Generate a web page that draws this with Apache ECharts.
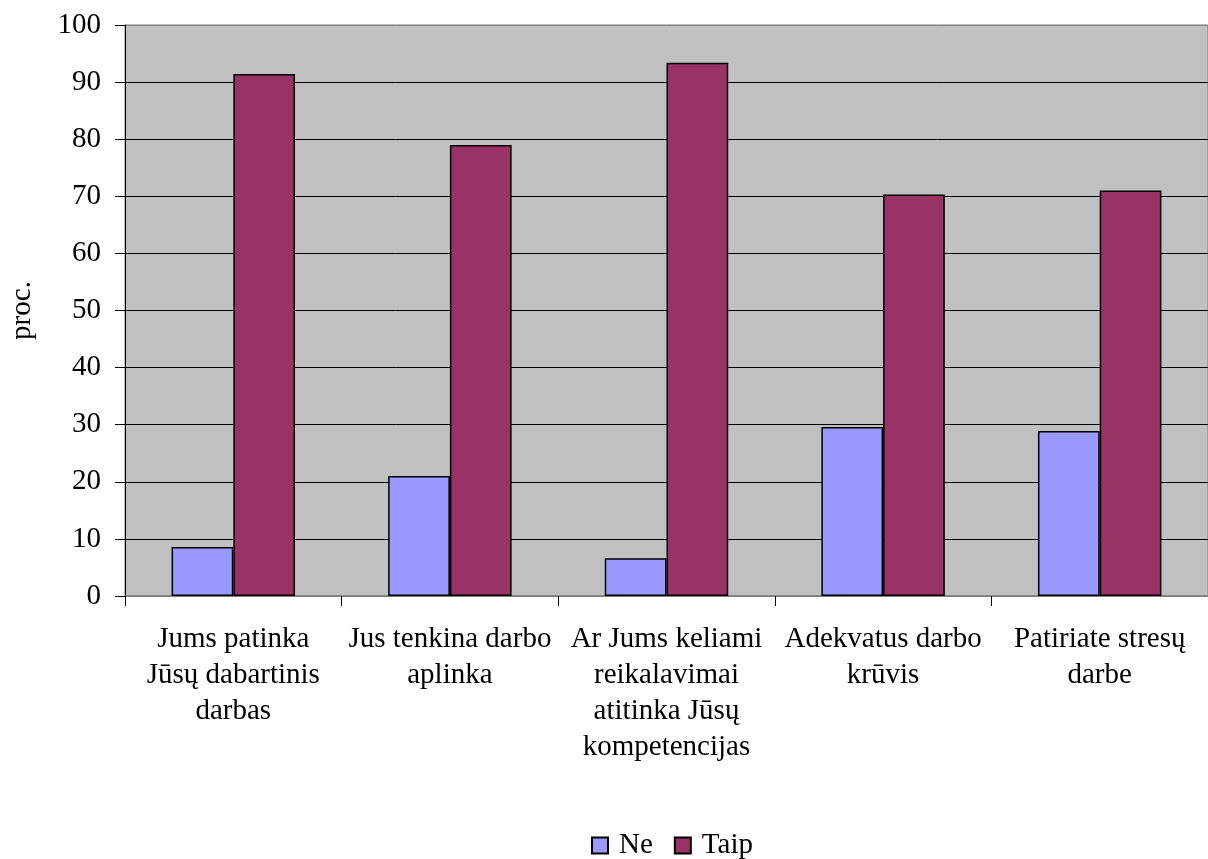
<!DOCTYPE html>
<html>
<head>
<meta charset="utf-8">
<script src="https://cdn.jsdelivr.net/npm/echarts@6/dist/echarts.min.js"></script>
<style>
  html, body { margin: 0; padding: 0; background: #fff; }
  #chart { width: 1208px; height: 859px; }
</style>
</head>
<body>
<div id="chart"></div>
<script>
// Survey questions (category axis)
const categories = [
  'Jums patinka\nJūsų dabartinis\ndarbas',
  'Jus tenkina darbo\naplinka',
  'Ar Jums keliami\nreikalavimai\natitinka Jūsų\nkompetencijas',
  'Adekvatus darbo\nkrūvis',
  'Patiriate stresų\ndarbe'
];

// Share of answers, percent
const seriesNames = ['Ne', 'Taip'];
const neValues = [8.6, 21.0, 6.6, 29.6, 28.9];
const taipValues = [91.4, 79.0, 93.4, 70.3, 71.0];

// Value axis ticks
const yMin = 0;
const yMax = 100;
const yStep = 10;

const font = 'Liberation Serif, Times New Roman, serif';
const fontSize = 29;

// Gridlines are black; the plot frame (bottom and top lines) is grey
const gridLineColors = [];
for (let v = yMin; v <= yMax; v += yStep) {
  gridLineColors.push(v === yMin || v === yMax ? '#808080' : '#000000');
}

const chart = echarts.init(document.getElementById('chart'), null, { renderer: 'canvas' });

chart.setOption({
  backgroundColor: '#ffffff',
  animation: false,
  textStyle: { fontFamily: font, color: '#000' },
  grid: {
    left: 123,
    right: -7,
    top: 25,
    bottom: 263,
    show: true,
    backgroundColor: '#c0c0c0',
    borderColor: '#808080',
    borderWidth: 1
  },
  legend: {
    data: seriesNames,
    top: 826,
    left: 586,
    icon: 'rect',
    itemWidth: 16,
    itemHeight: 16,
    itemGap: 21,
    itemStyle: { borderColor: '#000', borderWidth: 2 },
    textStyle: { fontFamily: font, fontSize: fontSize, color: '#000', padding: [0, 0, 0, 6] }
  },
  xAxis: {
    type: 'category',
    data: categories,
    axisLine: { show: true, lineStyle: { color: '#808080', width: 1.5 } },
    axisTick: { show: true, length: 10, alignWithLabel: false, lineStyle: { color: '#000' } },
    axisLabel: {
      interval: 0,
      margin: 25,
      fontFamily: font,
      fontSize: fontSize,
      lineHeight: 36,
      color: '#000',
      align: 'center'
    }
  },
  yAxis: {
    type: 'value',
    min: yMin,
    max: yMax,
    interval: yStep,
    name: 'proc.',
    nameLocation: 'middle',
    nameGap: 88,
    nameRotate: 90,
    nameTextStyle: { fontFamily: font, fontSize: fontSize, color: '#000' },
    axisLine: { show: true, lineStyle: { color: '#000', width: 1 } },
    axisTick: { show: true, inside: false, length: 10, lineStyle: { color: '#000' } },
    axisLabel: { margin: 24, fontFamily: font, fontSize: fontSize, color: '#000' },
    splitLine: { show: true, lineStyle: { color: gridLineColors, width: 1 } }
  },
  series: [
    {
      name: seriesNames[0],
      type: 'bar',
      data: neValues,
      barGap: '0%',
      barCategoryGap: '43%',
      itemStyle: { color: '#9999ff', borderColor: '#000', borderWidth: 1.5 }
    },
    {
      name: seriesNames[1],
      type: 'bar',
      data: taipValues,
      itemStyle: { color: '#993366', borderColor: '#000', borderWidth: 1.5 }
    }
  ]
});
</script>
</body>
</html>
